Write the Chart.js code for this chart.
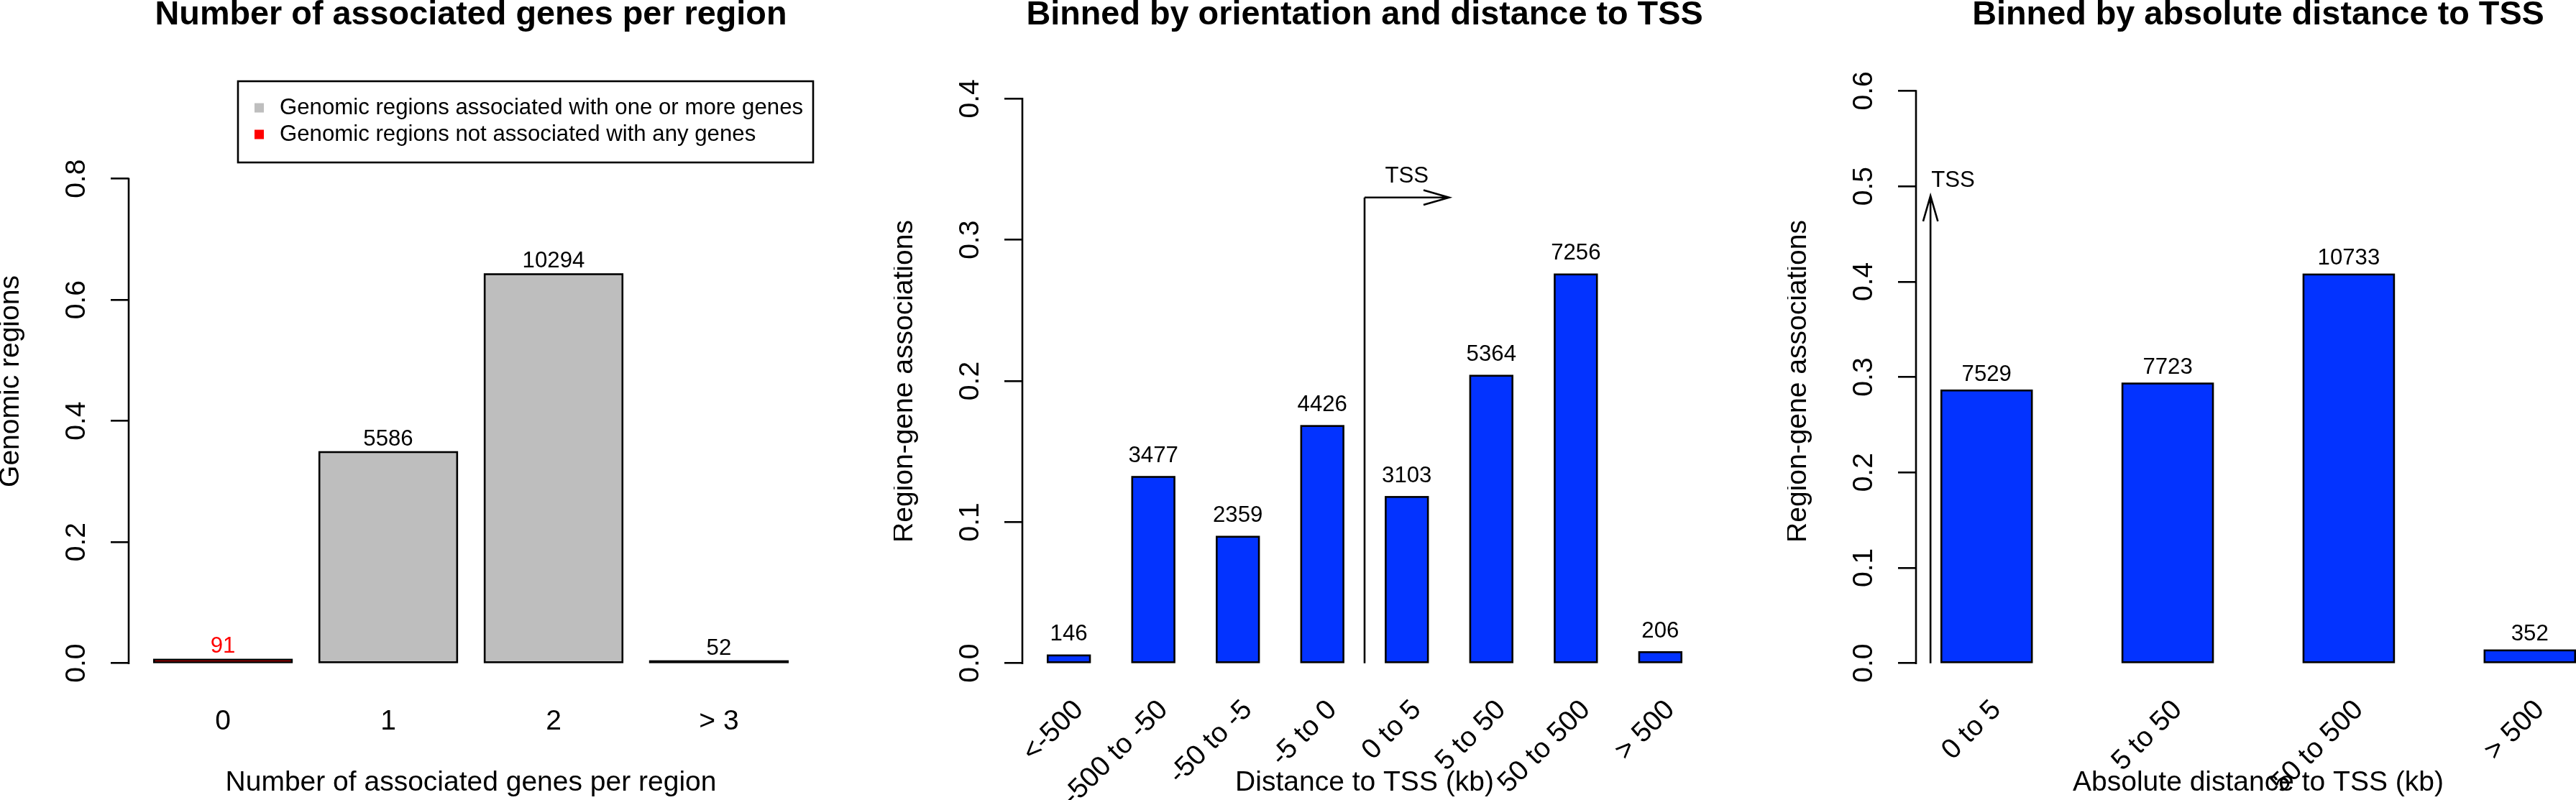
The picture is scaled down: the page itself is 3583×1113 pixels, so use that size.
<!DOCTYPE html>
<html>
<head>
<meta charset="utf-8">
<script src="https://cdn.jsdelivr.net/npm/chart.js@4.4.1/dist/chart.umd.min.js"></script>
<style>
  html, body { margin: 0; padding: 0; background: #fff; overflow: hidden; }
  #figura { position: relative; width: 3583px; height: 1113px; overflow: hidden; background: #fff; }
  .painel { position: absolute; top: 0; width: 1243px; height: 1113px; }
</style>
</head>
<body>
<div id="figura">
  <div class="painel" style="left:0"><canvas id="grafico1"></canvas></div>
  <div class="painel" style="left:1243px"><canvas id="grafico2"></canvas></div>
  <div class="painel" style="left:2486px"><canvas id="grafico3"></canvas></div>
</div>
<script>
// ---- Dados ----
// Painel 1: numero de genes associados por regiao
const genesCategorias = ['0', '1', '2', '> 3'];
const genesValores = [0.0057, 0.3486, 0.6424, 0.0032];
const genesContagens = ['91', '5586', '10294', '52'];
const genesYTicks = [0, 0.2, 0.4, 0.6, 0.8];
const legendaTextos = ['Genomic regions associated with one or more genes', 'Genomic regions not associated with any genes'];

// Painel 2: orientacao e distancia ao TSS
const orientCategorias = ['<-500', '-500 to -50', '-50 to -5', '-5 to 0', '0 to 5', '5 to 50', '50 to 500', '> 500'];
const orientValores = [0.0055, 0.1320, 0.0896, 0.1681, 0.1178, 0.2037, 0.2755, 0.0078];
const orientContagens = ['146', '3477', '2359', '4426', '3103', '5364', '7256', '206'];
const orientYTicks = [0, 0.1, 0.2, 0.3, 0.4];

// Painel 3: distancia absoluta ao TSS
const absCategorias = ['0 to 5', '5 to 50', '50 to 500', '> 500'];
const absValores = [0.2859, 0.2932, 0.4075, 0.0134];
const absContagens = ['7529', '7723', '10733', '352'];
const absYTicks = [0, 0.1, 0.2, 0.3, 0.4, 0.5, 0.6];

// ---- Estilo ----
const fonte = "'Liberation Sans', Arial, Helvetica, sans-serif";
const CINZA = '#bebebe';
const VERMELHO = '#ff0000';
const AZUL = '#0333ff';
const LINHA = 2.6;

Chart.defaults.font.family = fonte;
Chart.defaults.color = '#000';

// seta aberta (como arrows() do R)
function seta(ctx, x0, y0, x1, y1) {
    const ang = Math.atan2(y1 - y0, x1 - x0);
    const comp = 37, abertura = 0.28;
    ctx.beginPath();
    ctx.moveTo(x0, y0);
    ctx.lineTo(x1, y1);
    ctx.moveTo(x1 - comp * Math.cos(ang - abertura), y1 - comp * Math.sin(ang - abertura));
    ctx.lineTo(x1, y1);
    ctx.lineTo(x1 - comp * Math.cos(ang + abertura), y1 - comp * Math.sin(ang + abertura));
    ctx.stroke();
}

function criarPainel(id, cfg) {
    const espaco = cfg.espaco;
    // posicoes das barras no eixo x, igual ao barplot do R
    const posicoes = cfg.valores.map((v, i) => espaco + 0.5 + i * (1 + espaco));
    const x0 = posicoes[0] - 0.5, x1 = posicoes[posicoes.length - 1] + 0.5;
    const ext = (x1 - x0) * 0.04;
    const topo = cfg.ylimTopo;

    // linha do eixo y so entre o primeiro e o ultimo tick
    const eixoY = {
        id: 'eixoY',
        afterDraw(chart) {
            const y = chart.scales.y, ctx = chart.ctx;
            ctx.save();
            ctx.strokeStyle = '#000';
            ctx.lineWidth = LINHA;
            ctx.beginPath();
            ctx.moveTo(chart.chartArea.left, y.getPixelForValue(cfg.yTicks[0]) + LINHA / 2);
            ctx.lineTo(chart.chartArea.left, y.getPixelForValue(cfg.yTicks[cfg.yTicks.length - 1]) - LINHA / 2);
            ctx.stroke();
            ctx.restore();
        }
    };

    // contorno preto centrado na aresta de cada barra (igual ao rect() do R)
    const contornos = {
        id: 'contornos',
        afterDatasetsDraw(chart) {
            const ctx = chart.ctx;
            ctx.save();
            ctx.strokeStyle = '#000';
            ctx.lineWidth = LINHA;
            chart.getDatasetMeta(0).data.forEach(barra => {
                ctx.strokeRect(barra.x - barra.width / 2, barra.y, barra.width, barra.base - barra.y);
            });
            ctx.restore();
        }
    };

    // contagens em cima das barras
    const rotulos = {
        id: 'rotulos',
        afterDatasetsDraw(chart) {
            const ctx = chart.ctx;
            const meta = chart.getDatasetMeta(0);
            ctx.save();
            ctx.font = '31.2px ' + fonte;
            ctx.textAlign = 'center';
            ctx.textBaseline = 'middle';
            meta.data.forEach((barra, i) => {
                ctx.fillStyle = cfg.coresRotulo ? cfg.coresRotulo[i] : '#000';
                ctx.fillText(cfg.contagens[i], barra.x, barra.y - cfg.deslocRotulo);
            });
            ctx.restore();
        }
    };

    const plugins = [eixoY, contornos, rotulos];
    if (cfg.extra) plugins.push(cfg.extra);

    return new Chart(document.getElementById(id), {
        type: 'bar',
        data: {
            datasets: [{
                data: cfg.valores.map((v, i) => ({ x: posicoes[i], y: v })),
                backgroundColor: cfg.cores,
                borderWidth: 0,
                inflateAmount: 0,
                barPercentage: 1 / (1 + espaco),
                categoryPercentage: 1,
                clip: false
            }]
        },
        options: {
            animation: false,
            responsive: true,
            maintainAspectRatio: false,
            layout: { padding: { left: 0, right: 112, top: 0, bottom: 0 } },
            plugins: {
                legend: { display: false },
                tooltip: { enabled: false },
                title: {
                    display: true,
                    text: cfg.titulo,
                    fullSize: false,
                    color: '#000',
                    font: { size: 46.8, weight: 'bold', lineHeight: 0.9 },
                    padding: { top: 0, bottom: 64.9 }
                }
            },
            scales: {
                x: {
                    type: 'linear',
                    min: x0 - ext,
                    max: x1 + ext,
                    offset: false,
                    afterBuildTicks: s => { s.ticks = posicoes.map(p => ({ value: p })); },
                    ticks: {
                        autoSkip: false,
                        minRotation: cfg.rotacao,
                        maxRotation: cfg.rotacao,
                        padding: cfg.padX,
                        labelOffset: cfg.rotacao ? 14 : 0,
                        color: '#000',
                        font: { size: 39 },
                        callback: (v, i) => cfg.categorias[i]
                    },
                    grid: { display: false },
                    border: { display: false },
                    title: { display: true, text: cfg.tituloX, color: '#000', font: { size: 39, lineHeight: 1.2 }, padding: 0 },
                    afterFit: s => { s.height = 159; }
                },
                y: {
                    min: -0.04 * topo,
                    max: 1.04 * topo,
                    afterBuildTicks: s => { s.ticks = cfg.yTicks.map(v => ({ value: v })); },
                    ticks: {
                        minRotation: 90,
                        maxRotation: 90,
                        crossAlign: 'center',
                        padding: 20,
                        color: '#000',
                        font: { size: 39 },
                        callback: v => v.toFixed(1)
                    },
                    grid: { drawOnChartArea: false, drawTicks: true, tickLength: 25, color: '#000', lineWidth: LINHA },
                    border: { display: false },
                    title: { display: true, text: cfg.tituloY, color: '#000', font: { size: 39, lineHeight: 0.8 }, padding: 0 },
                    afterFit: s => { s.width = 179; }
                }
            }
        },
        plugins: plugins
    });
}

// legenda com caixa, no canto superior direito do painel 1
const legendaCaixa = {
    id: 'legendaCaixa',
    afterDraw(chart) {
        const ctx = chart.ctx, area = chart.chartArea;
        const largura = 800, altura = 113;
        const esq = area.right - largura, cima = area.top + 6;
        const cores = [CINZA, VERMELHO];
        ctx.save();
        ctx.strokeStyle = '#000';
        ctx.lineWidth = LINHA;
        ctx.strokeRect(esq, cima, largura, altura);
        ctx.font = '31.2px ' + fonte;
        ctx.textBaseline = 'middle';
        ctx.textAlign = 'left';
        legendaTextos.forEach((txt, i) => {
            const yc = cima + 37 + i * 37;
            ctx.fillStyle = cores[i];
            ctx.fillRect(esq + 23, yc - 6.5, 13, 13);
            ctx.fillStyle = '#000';
            ctx.fillText(txt, esq + 58, yc);
        });
        ctx.restore();
    }
};

// seta do TSS no painel 2 (entre "-5 to 0" e "0 to 5")
const tssOrientacao = {
    id: 'tssOrientacao',
    afterDraw(chart) {
        const ctx = chart.ctx, sx = chart.scales.x, sy = chart.scales.y;
        const xa = sx.getPixelForValue(8.5), xb = sx.getPixelForValue(10.5);
        const y0 = sy.getPixelForValue(0), ys = sy.getPixelForValue(0.33);
        ctx.save();
        ctx.strokeStyle = '#000';
        ctx.lineWidth = LINHA;
        ctx.beginPath();
        ctx.moveTo(xa, y0);
        ctx.lineTo(xa, ys);
        ctx.stroke();
        seta(ctx, xa, ys, xb, ys);
        ctx.fillStyle = '#000';
        ctx.font = '31.2px ' + fonte;
        ctx.textAlign = 'center';
        ctx.textBaseline = 'middle';
        ctx.fillText('TSS', sx.getPixelForValue(9.5), sy.getPixelForValue(0.345));
        ctx.restore();
    }
};

// seta do TSS no painel 3
const tssAbsoluto = {
    id: 'tssAbsoluto',
    afterDraw(chart) {
        const ctx = chart.ctx, sx = chart.scales.x, sy = chart.scales.y;
        const xa = sx.getPixelForValue(0.88);
        ctx.save();
        ctx.strokeStyle = '#000';
        ctx.lineWidth = LINHA;
        seta(ctx, xa, sy.getPixelForValue(0), xa, sy.getPixelForValue(0.49));
        ctx.fillStyle = '#000';
        ctx.font = '31.2px ' + fonte;
        ctx.textAlign = 'left';
        ctx.textBaseline = 'middle';
        ctx.fillText('TSS', xa + 1, sy.getPixelForValue(0.506));
        ctx.restore();
    }
};

criarPainel('grafico1', {
    titulo: 'Number of associated genes per region',
    tituloX: 'Number of associated genes per region',
    tituloY: 'Genomic regions',
    categorias: genesCategorias,
    valores: genesValores,
    contagens: genesContagens,
    cores: [VERMELHO, CINZA, CINZA, CINZA],
    coresRotulo: [VERMELHO, '#000', '#000', '#000'],
    yTicks: genesYTicks,
    ylimTopo: 0.931,
    espaco: 0.2,
    rotacao: 0,
    padX: 18.6,
    deslocRotulo: 18,
    extra: legendaCaixa
});

criarPainel('grafico2', {
    titulo: 'Binned by orientation and distance to TSS',
    tituloX: 'Distance to TSS (kb)',
    tituloY: 'Region-gene associations',
    categorias: orientCategorias,
    valores: orientValores,
    contagens: orientContagens,
    cores: AZUL,
    yTicks: orientYTicks,
    ylimTopo: 0.3995,
    espaco: 1,
    rotacao: 45,
    padX: 3,
    deslocRotulo: 29,
    extra: tssOrientacao
});

criarPainel('grafico3', {
    titulo: 'Binned by absolute distance to TSS',
    tituloX: 'Absolute distance to TSS (kb)',
    tituloY: 'Region-gene associations',
    categorias: absCategorias,
    valores: absValores,
    contagens: absContagens,
    cores: AZUL,
    yTicks: absYTicks,
    ylimTopo: 0.591,
    espaco: 1,
    rotacao: 45,
    padX: 3,
    deslocRotulo: 22,
    extra: tssAbsoluto
});
</script>
</body>
</html>
